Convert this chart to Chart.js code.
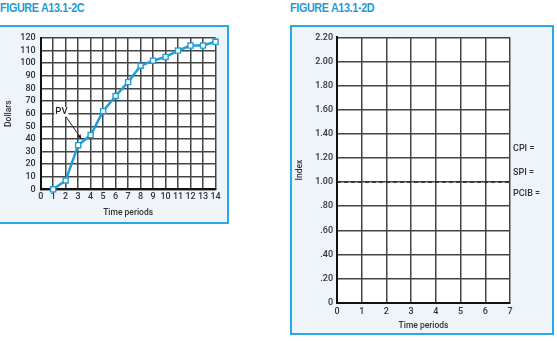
<!DOCTYPE html>
<html>
<head>
<meta charset="utf-8">
<script src="https://cdn.jsdelivr.net/npm/chart.js@4"></script>
<style>
  body { margin: 0; width: 557px; height: 341px; background: #fff; position: relative; overflow: hidden; font-family: Roboto, "Liberation Sans", sans-serif; }
  .title { position: absolute; top: 1px; font-family: "Liberation Sans Narrow", "Liberation Sans", sans-serif; font-weight: bold; font-size: 12px; color: #1f9ad6; letter-spacing: -0.4px; transform: scaleX(0.9); transform-origin: left top; white-space: nowrap; }
  .box { position: absolute; background: #eef4fa; border: 2px solid #2aa8e2; box-sizing: border-box; }
  canvas { position: absolute; }
  .side { position: absolute; left: 513px; font-size: 9px; color: #333; font-weight: 500; line-height: 10px; }
</style>
</head>
<body>
<div class="title" style="left:0px">FIGURE A13.1-2C</div>
<div class="title" style="left:290px">FIGURE A13.1-2D</div>
<div class="box" style="left:-3px; top:25px; width:232px; height:199px"></div>
<div class="box" style="left:290px; top:25px; width:264px; height:310px"></div>
<canvas id="pvChart" width="228" height="197" style="left:0px; top:26px"></canvas>
<canvas id="indexChart" width="261" height="307" style="left:291px; top:26px"></canvas>
<div class="side" style="top:143px">CPI =</div>
<div class="side" style="top:167px">SPI =</div>
<div class="side" style="top:188px">PCIB =</div>
<script>
// Figure C: planned value (PV) by time period
const pvPeriods = [1, 2, 3, 4, 5, 6, 7, 8, 9, 10, 11, 12, 13, 14];
const pvValues = [0, 7, 35, 43, 62, 74, 85, 98, 102, 105, 110, 114, 114, 117];

// Figure D: empty index grid with the 1.00 baseline
const indexBaselineX = [0, 7];
const indexBaselineY = [1, 1];
const indexTickLabels = ['0', '.20', '.40', '.60', '.80', '1.00', '1.20', '1.40', '1.60', '1.80', '2.00', '2.20'];

const BLUE = '#1f9ed9';
const GRID = '#444';
const TICK_FONT = { family: 'Roboto', size: 9, weight: '500' };
const TITLE_FONT = { family: 'Roboto', size: 8.5, weight: '500' };

// draws the "PV" callout with its arrow, placed in data units
const pvCallout = {
    id: 'pvCallout',
    afterDatasetsDraw(chart, args, opts) {
        if (!opts.text) return;
        const { ctx, scales: { x, y } } = chart;
        const tx = x.getPixelForValue(opts.textAt[0]);
        const ty = y.getPixelForValue(opts.textAt[1]);
        const sx = x.getPixelForValue(opts.from[0]);
        const sy = y.getPixelForValue(opts.from[1]);
        const ex = x.getPixelForValue(opts.to[0]);
        const ey = y.getPixelForValue(opts.to[1]);
        ctx.save();
        ctx.font = '500 9.5px Roboto';
        const w = ctx.measureText(opts.text).width;
        ctx.fillStyle = '#fff';
        ctx.fillRect(tx - w / 2 - 1, ty - 5, w + 2, 10);
        ctx.fillStyle = '#222';
        ctx.textAlign = 'center';
        ctx.textBaseline = 'middle';
        ctx.fillText(opts.text, tx, ty);
        ctx.strokeStyle = '#222';
        ctx.lineWidth = 1;
        ctx.beginPath();
        ctx.moveTo(sx, sy);
        ctx.lineTo(ex, ey);
        ctx.stroke();
        const a = Math.atan2(ey - sy, ex - sx);
        ctx.fillStyle = '#222';
        ctx.beginPath();
        ctx.moveTo(ex, ey);
        ctx.lineTo(ex - 5 * Math.cos(a - 0.4), ey - 5 * Math.sin(a - 0.4));
        ctx.lineTo(ex - 5 * Math.cos(a + 0.4), ey - 5 * Math.sin(a + 0.4));
        ctx.closePath();
        ctx.fill();
        ctx.restore();
    }
};

// white plot background
const plotBg = {
    id: 'plotBg',
    beforeDraw(chart) {
        const { ctx, chartArea: a } = chart;
        ctx.save();
        ctx.fillStyle = '#fff';
        ctx.fillRect(a.left, a.top, a.right - a.left, a.bottom - a.top);
        ctx.restore();
    }
};

document.addEventListener('DOMContentLoaded', function () {
    initPvChart();
    initIndexChart();
});

function initPvChart() {
    const ctx = document.getElementById('pvChart').getContext('2d');
    new Chart(ctx, {
        type: 'line',
        data: {
            datasets: [{
                label: 'PV',
                data: pvPeriods.map((p, i) => ({ x: p, y: pvValues[i] })),
                borderColor: BLUE,
                borderWidth: 2.5,
                pointStyle: 'rect',
                pointRadius: 3.6,
                pointBorderWidth: 1.4,
                pointBackgroundColor: '#fff',
                pointBorderColor: BLUE,
                clip: false
            }]
        },
        options: {
            responsive: false,
            animation: false,
            layout: { padding: { top: 12, right: 12.5, left: 0, bottom: 0 } },
            plugins: {
                legend: { display: false },
                tooltip: { enabled: false },
                pvCallout: { text: 'PV', textAt: [1.66, 61.4], from: [2.02, 57.7], to: [3.27, 39.7] }
            },
            scales: {
                x: {
                    type: 'linear',
                    min: 0,
                    max: 14,
                    afterFit(scale) { scale.height = 33.7; },
                    grid: { color: GRID, lineWidth: 1.5, drawTicks: false },
                    border: { color: '#111', width: 2 },
                    ticks: { stepSize: 1, autoSkip: false, padding: 2.5, color: '#333', font: TICK_FONT, maxRotation: 0 },
                    title: { display: true, text: 'Time periods', color: '#333', font: TITLE_FONT, padding: { top: 0, bottom: 5.5 } }
                },
                y: {
                    min: 0,
                    max: 120,
                    afterFit(scale) { scale.width = 40.7; },
                    grid: { color: GRID, lineWidth: 1.5, drawTicks: false },
                    border: { color: '#111', width: 2 },
                    ticks: { stepSize: 10, autoSkip: false, padding: 5, color: '#333', font: TICK_FONT },
                    title: { display: true, text: 'Dollars', color: '#333', font: TITLE_FONT, padding: { top: 4, bottom: 0 } }
                }
            }
        },
        plugins: [plotBg, pvCallout]
    });
}

function initIndexChart() {
    const ctx = document.getElementById('indexChart').getContext('2d');
    new Chart(ctx, {
        type: 'line',
        data: {
            datasets: [{
                label: 'Baseline',
                data: indexBaselineX.map((v, i) => ({ x: v, y: indexBaselineY[i] })),
                borderColor: '#222',
                borderWidth: 1.3,
                borderDash: [4, 3],
                pointRadius: 0
            }]
        },
        options: {
            responsive: false,
            animation: false,
            layout: { padding: { top: 11.3, right: 42, left: 0, bottom: 0 } },
            plugins: {
                legend: { display: false },
                tooltip: { enabled: false }
            },
            scales: {
                x: {
                    type: 'linear',
                    min: 0,
                    max: 7,
                    afterFit(scale) { scale.height = 30.3; },
                    grid: { color: GRID, lineWidth: 1.5, drawTicks: false },
                    border: { color: '#111', width: 2 },
                    ticks: { stepSize: 1, autoSkip: false, padding: 4, color: '#333', font: TICK_FONT, maxRotation: 0 },
                    title: { display: true, text: 'Time periods', color: '#333', font: TITLE_FONT, padding: { top: 0, bottom: 1.8 } }
                },
                y: {
                    min: 0,
                    max: 2.2,
                    afterFit(scale) { scale.width = 46; },
                    afterBuildTicks(scale) {
                        scale.ticks = indexTickLabels.map((t, i) => ({ value: i * 0.2 }));
                    },
                    grid: { color: GRID, lineWidth: 1.5, drawTicks: false },
                    border: { color: '#111', width: 2 },
                    ticks: {
                        autoSkip: false,
                        padding: 4,
                        color: '#333',
                        font: TICK_FONT,
                        callback: (v, i) => indexTickLabels[i]
                    },
                    title: { display: true, text: 'Index', color: '#333', font: TITLE_FONT, padding: { top: 4, bottom: 0 } }
                }
            }
        },
        plugins: [plotBg]
    });
}
</script>
</body>
</html>
